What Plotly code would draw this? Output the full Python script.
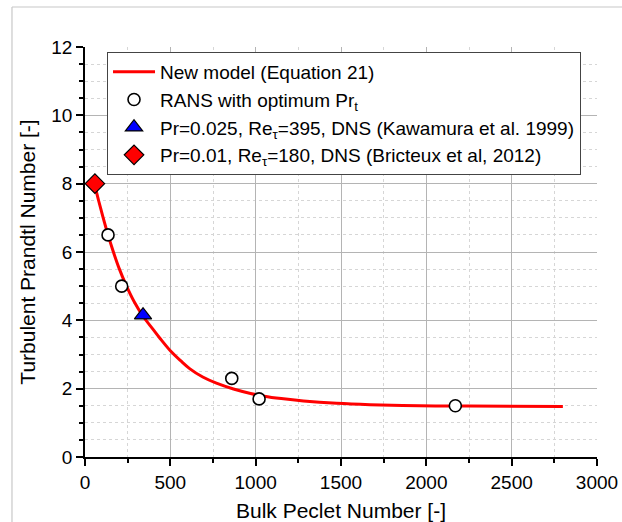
import plotly.graph_objects as go

# Curve: New model (Equation 21)
model_pe = [55, 80, 105, 135, 165, 200, 240, 290, 340, 400, 440, 500, 560, 615,
            690, 770, 870, 970, 1050, 1150, 1280, 1475, 1670, 1960, 2250, 2800]
model_prt = [8.0, 7.5, 7.03, 6.5, 6.02, 5.52, 5.04, 4.53, 4.12, 3.73, 3.47, 3.11, 2.82, 2.58,
             2.34, 2.16, 1.99, 1.86, 1.78, 1.71, 1.64, 1.57, 1.53, 1.50, 1.49, 1.48]

# RANS with optimum Pr_t
rans_pe = [135, 215, 860, 1020, 2170]
rans_prt = [6.5, 5.0, 2.3, 1.7, 1.5]

# DNS Kawamura et al. 1999
kaw_pe = [340]
kaw_prt = [4.15]

# DNS Bricteux et al. 2012
bri_pe = [58]
bri_prt = [8.0]

x_ticks = [0, 500, 1000, 1500, 2000, 2500, 3000]
y_ticks = [0, 2, 4, 6, 8, 10, 12]

FONT = "Liberation Sans, Arial, sans-serif"

fig = go.Figure()
fig.add_trace(go.Scatter(x=model_pe, y=model_prt, mode="lines", line_shape="spline",
                         line=dict(color="#ff0000", width=3),
                         name="New model (Equation 21)"))
fig.add_trace(go.Scatter(x=rans_pe, y=rans_prt, mode="markers",
                         marker=dict(symbol="circle", size=12, color="white",
                                     line=dict(color="black", width=1.6)),
                         name="RANS with optimum Pr<sub>t</sub>"))
fig.add_trace(go.Scatter(x=kaw_pe, y=kaw_prt, mode="markers",
                         marker=dict(symbol="triangle-up", size=15, color="#0000ff",
                                     line=dict(color="black", width=1.2)),
                         name="Pr=0.025, Re<sub>τ</sub>=395, DNS (Kawamura et al. 1999)"))
fig.add_trace(go.Scatter(x=bri_pe, y=bri_prt, mode="markers",
                         marker=dict(symbol="diamond", size=15, color="#ff0000",
                                     line=dict(color="black", width=1.2)),
                         name="Pr=0.01, Re<sub>τ</sub>=180, DNS (Bricteux et al, 2012)"))

axis_common = dict(
    showline=True, linecolor="black", linewidth=1.8, mirror=False,
    ticks="outside", ticklen=7, tickwidth=1.8, tickcolor="black",
    showgrid=True, gridcolor="#b4b4b4", gridwidth=1,
    zeroline=False, automargin=False,
    tickfont=dict(family=FONT, size=19, color="black"),
)

fig.update_xaxes(range=[0, 3000], tickvals=x_ticks,
                 title=dict(text="Bulk Peclet Number [-]", font=dict(family=FONT, size=21, color="black"), standoff=14),
                 minor=dict(dtick=250, tick0=0, ticks="outside", ticklen=4, tickwidth=1.5, tickcolor="black",
                            showgrid=True, gridcolor="#d6d6d6", griddash="dot", gridwidth=1),
                 **axis_common)
fig.update_yaxes(range=[0, 12], tickvals=y_ticks,
                 title=dict(text="Turbulent Prandtl Number [-]", font=dict(family=FONT, size=21, color="black"), standoff=10),
                 minor=dict(dtick=0.5, tick0=0, ticks="outside", ticklen=4, tickwidth=1.5, tickcolor="black",
                            showgrid=True, gridcolor="#d6d6d6", griddash="dot", gridwidth=1),
                 **axis_common)

fig.update_layout(
    width=622, height=522,
    margin=dict(l=85, r=25, t=47, b=65),
    paper_bgcolor="white", plot_bgcolor="white",
    font=dict(family=FONT, color="black"),
    legend=dict(x=0.043, y=0.988, xanchor="left", yanchor="top",
                bgcolor="white", bordercolor="#444444", borderwidth=1,
                font=dict(family=FONT, size=19, color="black"),
                itemwidth=42, tracegroupgap=0),
    shapes=[
        dict(type="line", xref="paper", yref="paper", x0=-0.1426, x1=1.06, y0=1.0976, y1=1.0976,
             line=dict(color="#c8c8c8", width=1.2)),
        dict(type="line", xref="paper", yref="paper", x0=-0.1426, x1=-0.1426, y0=1.0976, y1=-0.17,
             line=dict(color="#c8c8c8", width=1.2)),
    ],
)

fig.write_html("out.html")
